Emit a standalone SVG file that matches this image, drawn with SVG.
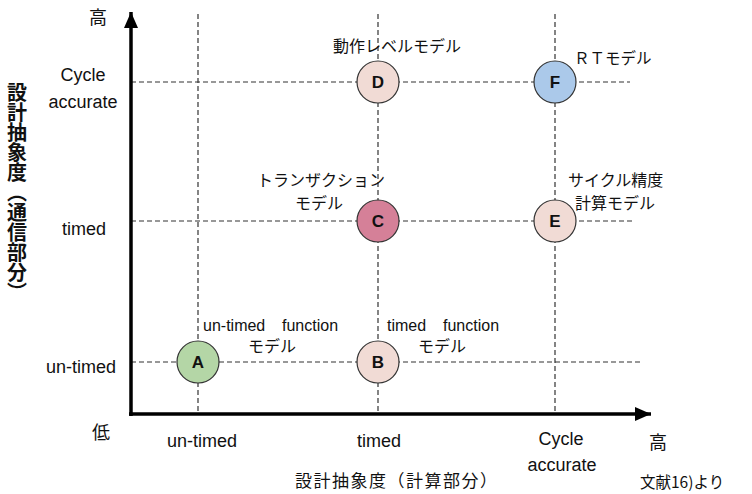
<svg xmlns="http://www.w3.org/2000/svg" width="752" height="494" viewBox="0 0 752 494">
  <style>
    .lat { font-family: "Liberation Sans", Arial, sans-serif; fill: #111; }
    .jp { font-family: "Noto Sans CJK JP", "Noto Sans", sans-serif; fill: #111; }
    .ax { font-size: 18px; }
    .lbl { font-size: 16px; }
    .grid { stroke: #333; stroke-width: 1.2; stroke-dasharray: 5 3; fill: none; }
    .axis { stroke: #000; stroke-width: 3.5; fill: none; }
    .node circle { stroke: #333; stroke-width: 1.2; }
    .node text { font-family: "Liberation Sans", Arial, sans-serif; font-weight: bold; font-size: 17px; text-anchor: middle; fill: #111; }
  </style>
  <defs>
    <marker id="arrow" viewBox="0 0 16 14" refX="16" refY="7" markerWidth="16" markerHeight="14" markerUnits="userSpaceOnUse" orient="auto">
      <path d="M0,0 L16,7 L0,14 Z" fill="#000"/>
    </marker>
  </defs>

  <!-- grid guides and axes -->
  <g id="connectors">
    <line class="grid" x1="198" y1="14" x2="198" y2="414"/>
    <line class="grid" x1="378" y1="14" x2="378" y2="414"/>
    <line class="grid" x1="555" y1="14" x2="555" y2="414"/>
    <line class="grid" x1="131" y1="82" x2="630" y2="82"/>
    <line class="grid" x1="131" y1="221" x2="632" y2="221"/>
    <line class="grid" x1="131" y1="362" x2="640" y2="362"/>
    <line class="axis" x1="131" y1="416" x2="131" y2="12" marker-end="url(#arrow)"/>
    <line class="axis" x1="129" y1="414" x2="651" y2="414" marker-end="url(#arrow)"/>
  </g>

  <!-- model nodes -->
  <g id="node-A" class="node"><circle cx="198" cy="362" r="21" fill="#b4d6a6"/><text x="198" y="368">A</text></g>
  <g id="node-B" class="node"><circle cx="378" cy="362" r="21" fill="#f1dbd5"/><text x="378" y="368">B</text></g>
  <g id="node-C" class="node"><circle cx="378" cy="221" r="21" fill="#d58098"/><text x="378" y="227">C</text></g>
  <g id="node-D" class="node"><circle cx="378" cy="82" r="21" fill="#f1dbd5"/><text x="378" y="88">D</text></g>
  <g id="node-E" class="node"><circle cx="555" cy="221" r="21" fill="#f1dbd5"/><text x="555" y="227">E</text></g>
  <g id="node-F" class="node"><circle cx="555" cy="82" r="21" fill="#abc9ea"/><text x="555" y="88">F</text></g>

  <!-- node captions -->
  <g id="captions" class="lbl">
    <text class="jp" x="333" y="52">動作レベルモデル</text>
    <text class="jp" x="574" y="64" font-size="15.5">ＲＴモデル</text>
    <text class="jp" x="257" y="186">トランザクション</text>
    <text class="jp" x="295" y="209">モデル</text>
    <text class="jp" x="568" y="186">サイクル精度</text>
    <text class="jp" x="575" y="209">計算モデル</text>
    <text class="lat" x="203" y="331">un-timed</text>
    <text class="lat" x="282" y="331">function</text>
    <text class="jp" x="248" y="352">モデル</text>
    <text class="lat" x="387" y="331">timed</text>
    <text class="lat" x="443" y="331">function</text>
    <text class="jp" x="418" y="352">モデル</text>
  </g>

  <!-- vertical axis labels -->
  <g id="y-labels" class="ax" text-anchor="middle">
    <text class="jp" x="98" y="24">高</text>
    <text class="lat" x="83" y="81">Cycle</text>
    <text class="lat" x="83" y="108">accurate</text>
    <text class="lat" x="84" y="235">timed</text>
    <text class="lat" x="81" y="373">un-timed</text>
    <text class="jp" x="101" y="439">低</text>
    <text class="jp" x="17" y="82" font-size="20" font-weight="bold" style="writing-mode: vertical-rl" text-anchor="start">設計抽象度（通信部分）</text>
  </g>

  <!-- horizontal axis labels -->
  <g id="x-labels" class="ax" text-anchor="middle">
    <text class="lat" x="202" y="447">un-timed</text>
    <text class="lat" x="379" y="447">timed</text>
    <text class="lat" x="561" y="445">Cycle</text>
    <text class="lat" x="562" y="471">accurate</text>
    <text class="jp" x="658" y="449">高</text>
    <text class="jp" x="295" y="487" font-size="17" text-anchor="start" textLength="202" lengthAdjust="spacing">設計抽象度（計算部分）</text>
    <text class="jp" x="640" y="488" font-size="15.5" text-anchor="start">文献16)より</text>
  </g>
</svg>
